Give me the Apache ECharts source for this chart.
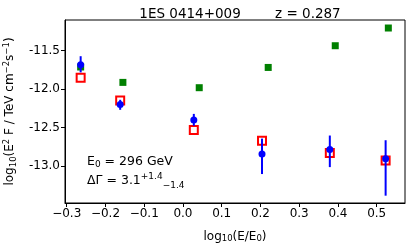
<!DOCTYPE html>
<html><head><meta charset="utf-8">
<script src="https://cdn.jsdelivr.net/npm/echarts@6/dist/echarts.min.js"></script>
<style>html,body{margin:0;padding:0;background:#fff}#c{width:415px;height:247px}</style>
</head><body><div id="c"></div>
<script>
const xTicks = [-0.3, -0.2, -0.1, 0.0, 0.1, 0.2, 0.3, 0.4, 0.5];
const yTicks = [-13.0, -12.5, -12.0, -11.5];
const xBlue = [-0.264, -0.162, 0.028, 0.204, 0.379, 0.523];
const yBlue = [-11.684, -12.20, -12.403, -12.844, -12.784, -12.905];
const errUp = [0.11, 0.06, 0.08, 0.20, 0.18, 0.24];
const errDown = [0.10, 0.07, 0.075, 0.26, 0.23, 0.48];
const yRed = [-11.853, -12.148, -12.532, -12.671, -12.831, -12.927];
const xGreen = [-0.264, -0.155, 0.042, 0.220, 0.393, 0.530];
const yGreen = [-11.714, -11.914, -11.983, -11.72, -11.438, -11.208];

const F = 'DejaVu Sans';
const chart = echarts.init(document.getElementById('c'), null, {renderer: 'canvas'});
const fmtMinus = v => (v < 0 ? '\u2212' : '') + Math.abs(v).toFixed(1);
const option = {
  animation: false,
  backgroundColor: '#fff',
  title: {
    text: '1ES 0414+009        z = 0.287',
    left: 235, top: 2, textAlign: 'center',
    textStyle: {fontFamily: F, fontSize: 13.5, fontWeight: 'normal', color: '#000'}
  },
  grid: {left: 65, right: 10, top: 20, bottom: 44, show: true, borderColor: '#000', borderWidth: 1,
         backgroundColor: 'transparent', outerBoundsMode: 'none', containLabel: false},
  xAxis: {
    type: 'value', min: -0.3044, max: 0.573,
    name: '{m|log}{s|10}{m|(E/E}{s|0}{m|)}',
    nameLocation: 'middle', nameGap: 24,
    nameTextStyle: {fontFamily: F, color: '#000', rich: {
      m: {fontFamily: F, fontSize: 12, color: '#000', verticalAlign: 'bottom', lineHeight: 16},
      s: {fontFamily: F, fontSize: 8.5, color: '#000', verticalAlign: 'bottom', lineHeight: 12}
    }},
    splitLine: {show: false},
    axisLine: {show: true, onZero: false, lineStyle: {color: '#000'}},
    axisTick: {show: true, length: 4, customValues: xTicks, lineStyle: {color: '#000'}},
    axisLabel: {customValues: xTicks, formatter: fmtMinus, fontFamily: F, fontSize: 12, color: '#000', margin: 5}
  },
  yAxis: {
    type: 'value', min: -13.48, max: -11.104,
    name: '{m|log}{s|10}{m|(E}{p|2}{m| F / TeV cm}{p|\u22122}{m|s}{p|\u22121}{m|)}',
    nameLocation: 'middle', nameGap: 44, nameRotate: 90,
    nameTextStyle: {fontFamily: F, color: '#000', rich: {
      m: {fontFamily: F, fontSize: 12, color: '#000', verticalAlign: 'middle', lineHeight: 16},
      s: {fontFamily: F, fontSize: 8.5, color: '#000', verticalAlign: 'bottom', lineHeight: 12},
      p: {fontFamily: F, fontSize: 8.5, color: '#000', verticalAlign: 'top', lineHeight: 12}
    }},
    splitLine: {show: false},
    axisLine: {show: true, onZero: false, lineStyle: {color: '#000'}},
    axisTick: {show: true, length: 4, customValues: yTicks, lineStyle: {color: '#000'}},
    axisLabel: {customValues: yTicks, formatter: v => v.toFixed(1), fontFamily: F, fontSize: 12, color: '#000', margin: 5}
  },
  graphic: [
    {type: 'text', left: 87, top: 155, style: {
      text: '{m|E}{s|0}{m| = 296 GeV}', font: '12px DejaVu Sans', fill: '#000',
      rich: {m: {fontFamily: F, fontSize: 12.5, fill: '#000', verticalAlign: 'middle', lineHeight: 16},
             s: {fontFamily: F, fontSize: 9, fill: '#000', verticalAlign: 'bottom', lineHeight: 11}}
    }},
    {type: 'text', left: 87, top: 172, style: {
      text: '{m|\u0394\u0393 = 3.1}{p|+1.4}{s|\u22121.4}', font: '12px DejaVu Sans', fill: '#000',
      rich: {m: {fontFamily: F, fontSize: 12.5, fill: '#000', verticalAlign: 'middle', lineHeight: 18},
             p: {fontFamily: F, fontSize: 9, fill: '#000', verticalAlign: 'top', lineHeight: 11},
             s: {fontFamily: F, fontSize: 9, fill: '#000', verticalAlign: 'bottom', lineHeight: 11}}
    }}
  ],
  series: [
    {type: 'scatter', name: 'green', symbol: 'rect', symbolSize: 7, z: 2,
     itemStyle: {color: '#008000', opacity: 1},
     data: xGreen.map((x, i) => [x, yGreen[i]])},
    {type: 'scatter', name: 'red', symbol: 'rect', symbolSize: 8, z: 3,
     itemStyle: {color: '#fff', borderColor: '#ff0000', borderWidth: 2, opacity: 1},
     data: xBlue.map((x, i) => [x, yRed[i]])},
    {type: 'custom', name: 'err', z: 4,
     data: xBlue.map((x, i) => [x, yBlue[i] - errDown[i], yBlue[i] + errUp[i]]),
     renderItem: (params, api) => {
       const a = api.coord([api.value(0), api.value(1)]);
       const b = api.coord([api.value(0), api.value(2)]);
       return {type: 'line', shape: {x1: a[0], y1: a[1], x2: b[0], y2: b[1]}, style: {stroke: '#0000ff', lineWidth: 2}};
     }},
    {type: 'scatter', name: 'blue', symbol: 'circle', symbolSize: 7, z: 5,
     itemStyle: {color: '#0000ff', opacity: 1},
     data: xBlue.map((x, i) => [x, yBlue[i]])}
  ]
};
chart.setOption(option);
</script></body></html>
